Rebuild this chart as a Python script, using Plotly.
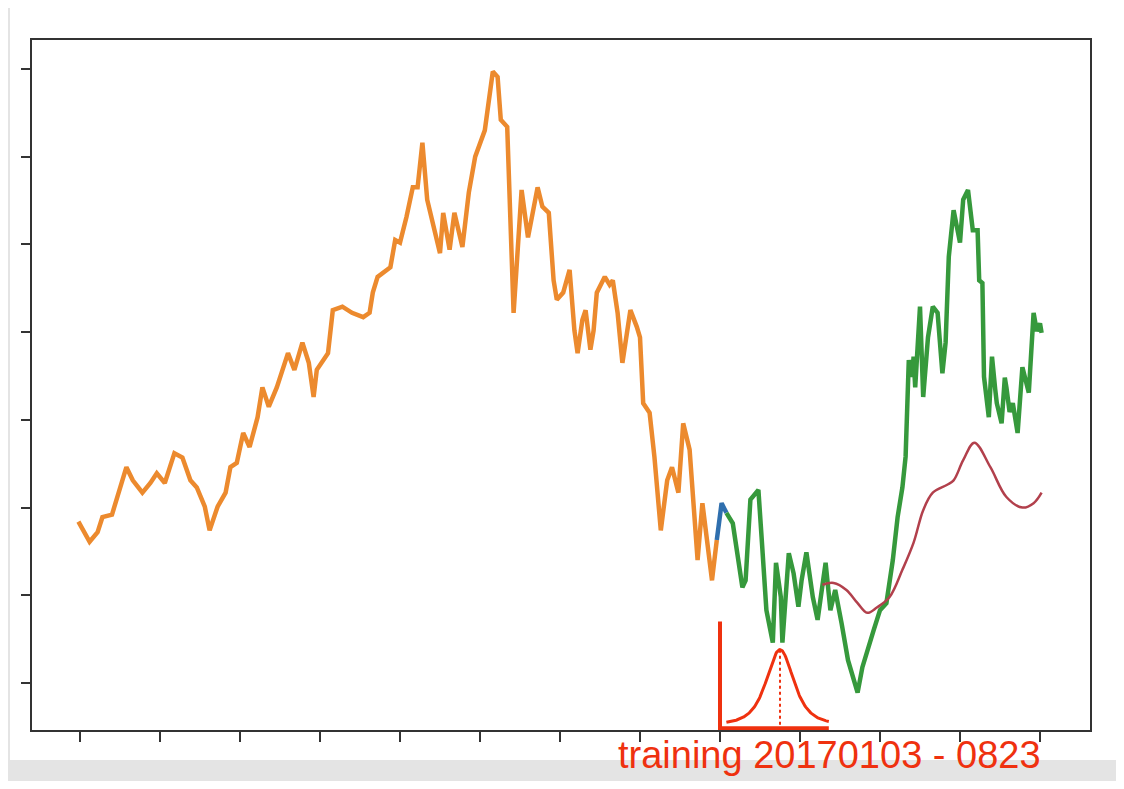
import numpy as np
import plotly.graph_objects as go

# ---- data (day index, value) ----
train_x = [-1, 1, 6, 11, 14, 20, 24, 29, 33, 39, 44, 48, 53, 59, 64, 69, 73, 78, 81, 86,
           91, 94, 98, 102, 106, 111, 114, 118, 123, 130, 134, 139, 143, 146, 148, 155, 158,
           164, 170, 177, 181, 183, 186, 194, 197, 200, 204, 208, 211, 214, 217, 221, 225,
           227, 231, 234, 239, 243, 247, 253, 258, 261, 263, 267, 271, 276, 280, 286, 289,
           293, 296, 298, 302, 306, 309, 311, 314, 316, 319, 321, 323, 328, 331, 333, 336,
           339, 342, 344, 348, 350, 352, 356, 359, 363, 367, 370, 374, 377, 381, 386, 389,
           395, 398]
train_y = [28.4, 27.8, 26.1, 27.2, 28.9, 29.2, 31.7, 34.6, 33.1, 31.7, 32.8, 33.9, 32.8,
           36.2, 35.7, 33.1, 32.3, 30.1, 27.4, 30.1, 31.7, 34.6, 35.1, 38.5, 36.9, 40.3,
           43.7, 41.5, 43.7, 47.6, 45.7, 48.8, 46.5, 42.6, 45.7, 47.6, 52.5, 52.9, 52.2,
           51.7, 52.2, 54.5, 56.3, 57.4, 60.5, 60.2, 63.1, 66.5, 66.5, 71.6, 65.1, 62.0,
           59.0, 63.6, 59.4, 63.6, 59.7, 65.9, 70.0, 73.0, 79.7, 79.1, 74.2, 73.4, 52.2,
           66.2, 60.8, 66.5, 64.3, 63.6, 55.9, 53.7, 54.5, 57.1, 50.2, 47.6, 51.4, 52.5,
           48.0, 50.2, 54.5, 56.3, 55.4, 55.9, 52.2, 46.5, 50.2, 52.5, 50.6, 49.4, 41.9,
           40.8, 35.8, 27.4, 33.1, 34.6, 31.7, 39.6, 36.6, 24.0, 30.5, 21.7, 26.3]

valid_x = [398, 401, 404]
valid_y = [26.3, 30.5, 29.4]

test_x = [404, 408, 414, 416, 419, 424, 426, 429, 433, 435, 438, 439, 443, 446, 449, 451,
          454, 458, 461, 466, 469, 472, 476, 480, 486, 489, 496, 500, 504, 508, 511, 514,
          516, 518, 520, 521, 522, 524, 525, 527, 529, 530, 533, 536, 539, 541, 543, 546,
          550, 552, 555, 558, 561, 562, 564, 565, 568, 570, 572, 573, 576, 578, 579, 581,
          583, 586, 589, 593, 596, 598, 600, 601]
test_y = [29.4, 28.2, 20.9, 21.7, 30.9, 32.0, 26.6, 18.3, 14.6, 23.7, 19.8, 14.6, 24.8,
          22.5, 18.7, 21.7, 24.9, 19.8, 17.2, 23.7, 18.3, 20.6, 16.8, 12.6, 8.9, 11.8,
          16.0, 18.3, 19.1, 24.0, 28.9, 32.3, 35.8, 46.8, 44.9, 47.2, 43.7, 49.8, 52.9,
          42.6, 47.0, 49.4, 52.9, 52.2, 45.3, 48.8, 58.6, 63.9, 60.2, 65.1, 66.2, 61.6,
          61.6, 55.9, 55.6, 44.9, 40.3, 47.2, 43.5, 41.9, 39.6, 44.8, 43.7, 40.9, 41.9,
          38.5, 46.0, 43.1, 52.2, 50.1, 51.0, 49.9]

pred_x = [464, 471, 479, 486, 492, 498, 506, 514, 521, 527, 533, 542, 546, 552, 559, 569,
          579, 589, 596, 601]
pred_y = [21.2, 21.4, 20.6, 19.1, 18.0, 18.6, 19.8, 22.9, 26.0, 29.7, 31.7, 32.6, 33.1,
          35.4, 37.4, 34.6, 31.2, 30.0, 30.5, 31.7]

x_ticks = list(range(0, 601, 50))
y_ticks = list(range(10, 81, 10))

# bell-curve sketch annotation parameters
g_center, g_width, g_nu, g_base, g_peak = 437.5, 9.0, 3.0, 5.25, 13.8
g_left, g_right = 404.0, 468.0
l_x, l_top, l_bottom = 400.0, 17.0, 4.85

annot_text = "training 20170103 - 0823"
RED = "#ef310f"

fig = go.Figure()
fig.add_trace(go.Scatter(x=train_x, y=train_y, mode="lines",
                         line=dict(color="#ec8a2e", width=4.5), hoverinfo="skip"))
fig.add_trace(go.Scatter(x=valid_x, y=valid_y, mode="lines",
                         line=dict(color="#2f6fae", width=4.5), hoverinfo="skip"))
fig.add_trace(go.Scatter(x=test_x, y=test_y, mode="lines",
                         line=dict(color="#36993c", width=4.5), hoverinfo="skip"))
fig.add_trace(go.Scatter(x=pred_x, y=pred_y, mode="lines",
                         line=dict(color="#b2404c", width=2.5, shape="spline", smoothing=1.0),
                         hoverinfo="skip"))

# bell-curve sketch
gx = np.linspace(g_left, g_right, 160)
shape_f = (1 + ((gx - g_center) / g_width) ** 2 / g_nu) ** (-(g_nu + 1) / 2)
gy = g_base + (g_peak - g_base) * shape_f
fig.add_trace(go.Scatter(x=gx, y=gy, mode="lines", line=dict(color=RED, width=3),
                         hoverinfo="skip", cliponaxis=False))
fig.add_trace(go.Scatter(x=[l_x, l_x, g_right], y=[l_top, l_bottom, l_bottom], mode="lines",
                         line=dict(color=RED, width=4), hoverinfo="skip", cliponaxis=False))
fig.add_trace(go.Scatter(x=[g_center, g_center], y=[g_peak, l_bottom], mode="lines",
                         line=dict(color=RED, width=2, dash="dot"), hoverinfo="skip",
                         cliponaxis=False))

fig.add_shape(type="rect", xref="paper", yref="paper", x0=-0.0208, x1=1.04,
              y0=-0.0435, y1=1.06, fillcolor="white", line=dict(width=0), layer="below")

fig.add_annotation(text=annot_text, xref="paper", yref="paper", x=0.754, y=-0.0696,
                   xanchor="center", yanchor="bottom", showarrow=False,
                   font=dict(family="Liberation Sans, Arial", size=38, color=RED))

axis_common = dict(showline=True, linecolor="#333333", linewidth=2, mirror=True,
                   ticks="outside", tickcolor="#333333", tickwidth=1.5,
                   showgrid=False, zeroline=False, showticklabels=False)
fig.update_xaxes(range=[-30, 631.25], tickvals=x_ticks, ticklen=10, **axis_common)
fig.update_yaxes(range=[4.64, 83.3], tickvals=y_ticks, ticklen=9, **axis_common)

fig.update_layout(width=1108, height=773, showlegend=False,
                  margin=dict(l=24, r=26, t=32, b=51),
                  paper_bgcolor="#e4e4e4", plot_bgcolor="white")
fig.write_html("out.html")
